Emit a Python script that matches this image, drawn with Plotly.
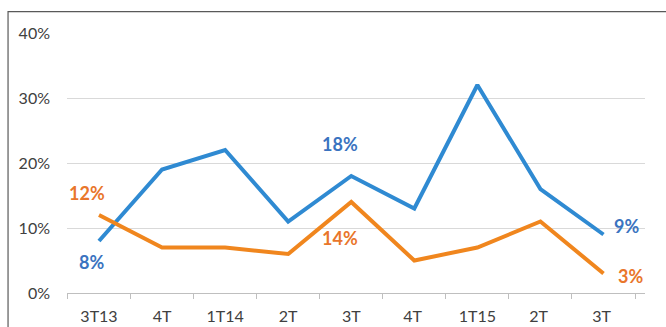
import plotly.graph_objects as go

# Quarterly rates (%) for the two series
quarters = ["3T13", "4T", "1T14", "2T", "3T", "4T ", "1T15", "2T ", "3T "]
blue_vals = [8, 19, 22, 11, 18, 13, 32, 16, 9]
orange_vals = [12, 7, 7, 6, 14, 5, 7, 11, 3]
y_ticks = [0, 10, 20, 30, 40]
y_tick_text = [f"{v}%" for v in y_ticks]

BLUE_LINE = "#2F8AD2"
ORANGE_LINE = "#F0861E"
BLUE_TEXT = "#3A73C0"
ORANGE_TEXT = "#E9762B"

fig = go.Figure()
fig.add_trace(go.Scatter(x=quarters, y=blue_vals, mode="lines",
                         line=dict(color=BLUE_LINE, width=4), cliponaxis=False))
fig.add_trace(go.Scatter(x=quarters, y=orange_vals, mode="lines",
                         line=dict(color=ORANGE_LINE, width=4), cliponaxis=False))

# Value labels on selected points: (series values, colour, index, xshift, yshift)
label_specs = [
    (orange_vals, ORANGE_TEXT, 0, -12, 22),
    (blue_vals, BLUE_TEXT, 0, -8, -21),
    (blue_vals, BLUE_TEXT, 4, -11, 32),
    (orange_vals, ORANGE_TEXT, 4, -11, -36),
    (blue_vals, BLUE_TEXT, 8, 23, 9),
    (orange_vals, ORANGE_TEXT, 8, 27, -2),
]
for vals, col, i, dx, dy in label_specs:
    fig.add_annotation(x=quarters[i], y=vals[i], text=f"{vals[i]}%",
                       showarrow=False, xshift=dx, yshift=dy,
                       font=dict(family="Lato", size=18, color=col, weight="bold"))

# Outer frame around the chart area
fig.add_shape(type="rect", xref="paper", yref="paper",
              x0=-0.102, x1=1.2, y0=-0.3, y1=1.082,
              line=dict(color="#595959", width=1.2), fillcolor="rgba(0,0,0,0)")

fig.update_layout(
    width=666, height=327,
    margin=dict(l=67, r=21, t=33, b=34),
    paper_bgcolor="white", plot_bgcolor="white",
    showlegend=False,
    font=dict(family="Lato", size=16, color="#404040"),
)
fig.update_xaxes(
    type="category", tickson="boundaries", ticks="outside", ticklen=5,
    tickcolor="#BFBFBF", showline=True, linecolor="#BFBFBF", linewidth=1,
    showgrid=False, ticklabelstandoff=9, automargin=False,
    tickfont=dict(family="Lato", size=16, color="#404040"),
)
fig.update_yaxes(
    range=[0, 40], tickmode="array", tickvals=y_ticks, ticktext=y_tick_text,
    showgrid=True, gridcolor="#D9D9D9", gridwidth=1, zeroline=False,
    showline=False, ticks="", ticklabelstandoff=16, automargin=False,
    tickfont=dict(family="Lato", size=16, color="#404040"),
)

fig.write_html("out.html")
